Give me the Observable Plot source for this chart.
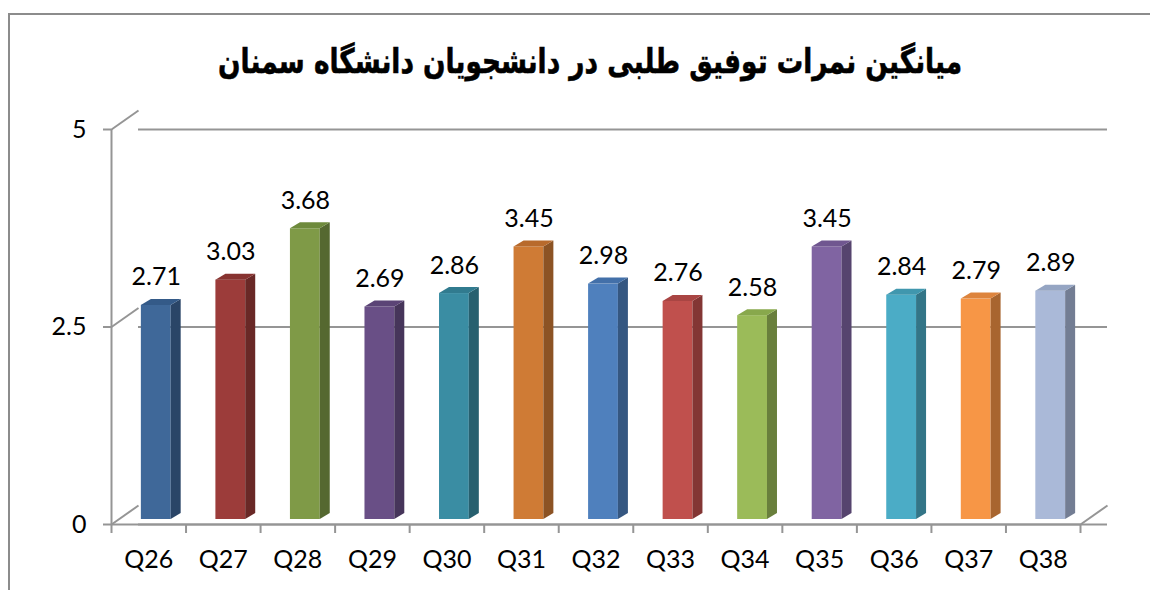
<!DOCTYPE html>
<html>
<head>
<meta charset="utf-8">
<script src="https://cdn.jsdelivr.net/npm/d3@7"></script>
<script src="https://cdn.jsdelivr.net/npm/@observablehq/plot@0.6"></script>
<style>
  html, body { margin: 0; padding: 0; background: #fff; }
  #wrap { position: relative; width: 1150px; height: 590px; overflow: hidden; }
  #frame { position: absolute; left: 8px; top: 13px; width: 1200px; height: 700px;
           border-left: 2px solid #8c8c8c; border-top: 2px solid #8c8c8c; }
  #title { position: absolute; left: 0; width: 1180px; top: 41px; text-align: center;
           font-family: "DejaVu Sans", sans-serif; font-weight: bold; font-size: 34px;
           direction: rtl; color: #000; transform: scaleX(0.775); transform-origin: 590px 0;
           -webkit-text-stroke: 0.6px #000; }
  #chart { position: absolute; left: 0; top: 0; }
</style>
</head>
<body>
<div id="wrap">
  <div id="frame"></div>
  <div id="chart"></div>
  <div id="title">میانگین نمرات توفیق طلبی در دانشجویان دانشگاه سمنان</div>
</div>
<script>
// ---- data ----
const categories = ["Q26","Q27","Q28","Q29","Q30","Q31","Q32","Q33","Q34","Q35","Q36","Q37","Q38"];
const values = [2.71, 3.03, 3.68, 2.69, 2.86, 3.45, 2.98, 2.76, 2.58, 3.45, 2.84, 2.79, 2.89];
const yTicks = [0, 2.5, 5];
const yTickLabels = ["0", "2.5", "5"];
// ---- palette ----
const frontColors = ["#3f6899","#9c3c3a","#7f9a47","#694f86","#3a8da3","#cf7b35","#4f80bd","#c0504d","#9bbb59","#8064a2","#4bacc6","#f79646","#aab9d8"];
const sideColors  = ["#2a4567","#692826","#556830","#46355a","#27606f","#8c5324","#355781","#833634","#697f3c","#56446e","#337587","#a8652f","#737d93"];
const topColors   = ["#345a88","#873330","#6e8a3c","#5b4476","#317b8f","#b86a2c","#4370a9","#a94543","#88a84c","#705690","#4097ae","#dd843d","#95a5c3"];

// ---- geometry (pixels) ----
const W = 1150, H = 590;
const mL = 111, mR = 70, mT = 129, mB = 66;
const kx = (W - mL - mR) / categories.length;   // px per category
const ky = (H - mT - mB) / 5;                    // px per y unit
const wallDX = 27, wallDY = 19;                  // back wall depth offset
const barDX = 7.5, barDY = 5;                    // bar position in depth
const barDepthX = 10, barDepthY = 6;             // bar's own depth
const bx = barDepthX / kx, by = barDepthY / ky;
const wX = wallDX / kx, wY = wallDY / ky;
const n = categories.length;

const data = categories.map((c, i) => ({c, i, v: values[i], front: frontColors[i], side: sideColors[i], top: topColors[i]}));

const sidePts = data.flatMap(d => [
  {z: d.c, x: d.i + 0.7, y1: 0, y2: d.v, f: d.side},
  {z: d.c, x: d.i + 0.7 + bx, y1: by, y2: d.v + by, f: d.side}
]);
const topPts = data.flatMap(d => [
  {z: d.c, y: d.v, x1: d.i + 0.3, x2: d.i + 0.7, f: d.top},
  {z: d.c, y: d.v + by, x1: d.i + 0.3 + bx, x2: d.i + 0.7 + bx, f: d.top}
]);
const boundaries = d3.range(n + 1);
const grid = "#959595";
const font = "Lato, 'Open Sans', sans-serif";
const fs = 25;

const plot = Plot.plot({
  width: W, height: H,
  marginLeft: mL, marginRight: mR, marginTop: mT, marginBottom: mB,
  x: {domain: [0, n], axis: null},
  y: {domain: [0, 5], axis: null},
  color: {type: "identity"},
  style: {fontFamily: font, background: "transparent"},
  marks: [
    // back wall gridlines
    Plot.ruleY(yTicks, {y: d => d, x1: wX, x2: n + wX, stroke: grid, strokeWidth: 2}),
    Plot.link(yTicks, {x1: 0, y1: d => d, x2: wX, y2: d => d + wY, stroke: grid, strokeWidth: 2}),
    // floor front edge and right edge
    Plot.ruleY([0], {x1: 0, x2: n, stroke: grid, strokeWidth: 2}),
    Plot.link([0], {x1: n, y1: 0, x2: n + wX, y2: wY, stroke: grid, strokeWidth: 2}),
    // y axis line and ticks
    Plot.ruleX([0], {y1: 0, y2: 5, stroke: grid, strokeWidth: 2}),
    Plot.ruleY(yTicks, {y: d => d, x1: -8 / kx, x2: 0, stroke: grid, strokeWidth: 2}),
    // x ticks
    Plot.ruleX(boundaries, {x: d => d, y1: 0, y2: -9 / ky, stroke: grid, strokeWidth: 2}),
    // bars: front faces
    Plot.rectY(data, {x1: d => d.i + 0.3, x2: d => d.i + 0.7, y1: 0, y2: "v", fill: "front", dx: barDX, dy: -barDY}),
    // side faces
    Plot.areaY(sidePts, {x: "x", y1: "y1", y2: "y2", z: "z", fill: "f", dx: barDX, dy: -barDY}),
    // top faces
    Plot.areaX(topPts, {y: "y", x1: "x1", x2: "x2", z: "z", fill: "f", dx: barDX, dy: -barDY}),
    // value labels
    Plot.text(data, {x: d => d.i + 0.5, y: "v", text: d => d.v.toFixed(2), dx: barDX, dy: -33, fontSize: fs, fill: "#000"}),
    // category labels
    Plot.text(data, {x: d => d.i + 0.5, y: 0, text: "c", dy: 35, fontSize: fs, fill: "#000"}),
    // y labels
    Plot.text(yTicks, {x: 0, y: d => d, text: (d, j) => yTickLabels[j], dx: -25, textAnchor: "end", fontSize: fs, fill: "#000"})
  ]
});
document.getElementById("chart").appendChild(plot);
</script>
</body>
</html>
